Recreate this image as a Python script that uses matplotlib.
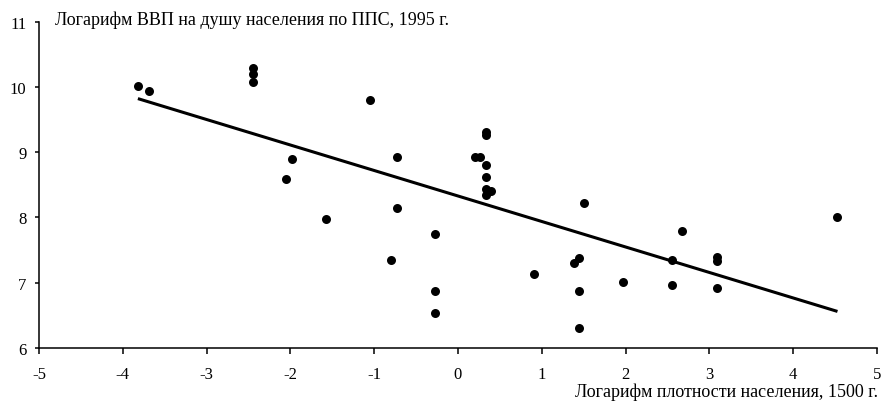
import matplotlib
matplotlib.use('Agg')
import matplotlib.pyplot as plt

plt.rcParams['font.family'] = ['Liberation Serif', 'DejaVu Serif']
plt.rcParams['axes.unicode_minus'] = False

# log population density 1500 (x) vs log GDP per capita PPP 1995 (y)
density_1500 = [-3.82, -3.69, -2.45, -2.45, -2.45, -1.05, -1.98, -2.05, -1.58,
                -0.73, -0.73, -0.80, -0.27, -0.27, -0.27, 0.20, 0.26, 0.33, 0.33,
                0.33, 0.33, 0.33, 0.39, 0.33, 0.91, 1.51, 1.44, 1.38, 1.44, 1.44,
                1.97, 2.68, 2.56, 2.56, 3.09, 3.09, 3.09, 4.53]
gdp_1995 = [10.01, 9.93, 10.29, 10.19, 10.08, 9.80, 8.89, 8.59, 7.97,
            8.92, 8.14, 7.35, 7.75, 6.88, 6.53, 8.92, 8.92, 9.31, 9.27,
            8.80, 8.62, 8.44, 8.40, 8.35, 7.13, 8.22, 7.38, 7.30, 6.88, 6.30,
            7.01, 7.79, 7.35, 6.96, 7.40, 7.34, 6.92, 8.00]

# trend line as drawn in the source
trend_x = [-3.82, 4.53]
trend_y = [9.82, 6.56]

fig = plt.figure(figsize=(8.81, 4.06), dpi=100)
ax = fig.add_axes([0.0443, 0.1404, 0.951, 0.804])

ax.scatter(density_1500, gdp_1995, s=42, color='black', zorder=3, linewidths=0)
ax.plot(trend_x, trend_y, color='black', linewidth=2.2, solid_capstyle='butt')

ax.set_xlim(-5, 5)
ax.set_ylim(6, 11)
ax.set_xticks(range(-5, 6))
ax.set_yticks(range(6, 12))
ax.spines['top'].set_visible(False)
ax.spines['right'].set_visible(False)
ax.spines['left'].set_linewidth(1.1)
ax.spines['bottom'].set_linewidth(1.1)
ax.tick_params(axis='x', direction='out', length=4, width=1.1, labelsize=12, pad=9)
ax.tick_params(axis='y', direction='out', length=3, width=1.1, labelsize=12, pad=6)

ax.text(-4.81, 11.04, 'Логарифм ВВП на душу населения по ППС, 1995 г.',
        fontsize=13, ha='left', va='center')
ax.text(5.01, -0.133, 'Логарифм плотности населения, 1500 г.', transform=ax.get_xaxis_transform(),
        fontsize=13, ha='right', va='center')

fig.savefig('out.png', dpi=100)
